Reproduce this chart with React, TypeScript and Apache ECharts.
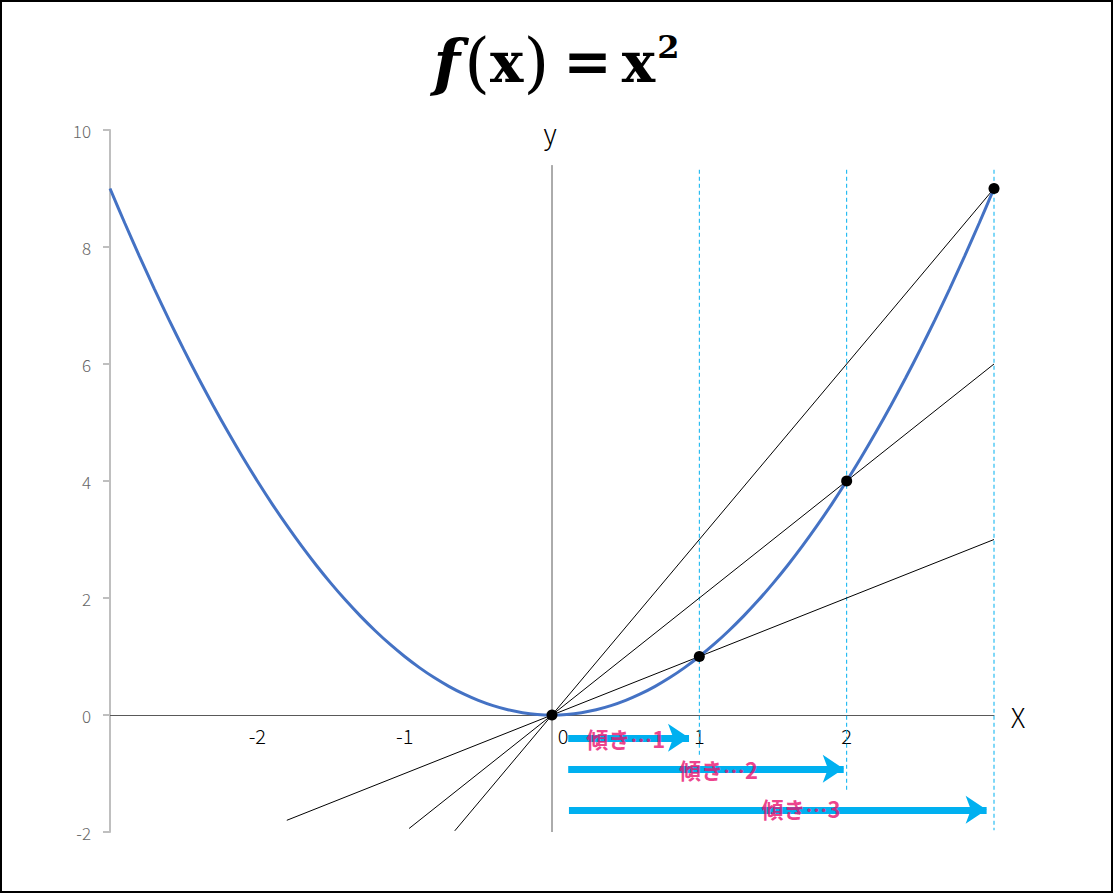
import React, { useEffect, useRef } from "react";
import * as echarts from "echarts";

const curveX = [-3, -2.9, -2.8, -2.7, -2.6, -2.5, -2.4, -2.3, -2.2, -2.1, -2, -1.9, -1.8, -1.7, -1.6, -1.5, -1.4, -1.3, -1.2, -1.1, -1, -0.9, -0.8, -0.7, -0.6, -0.5, -0.4, -0.3, -0.2, -0.1, 0, 0.1, 0.2, 0.3, 0.4, 0.5, 0.6, 0.7, 0.8, 0.9, 1, 1.1, 1.2, 1.3, 1.4, 1.5, 1.6, 1.7, 1.8, 1.9, 2, 2.1, 2.2, 2.3, 2.4, 2.5, 2.6, 2.7, 2.8, 2.9, 3];
const curveY = [9, 8.41, 7.84, 7.29, 6.76, 6.25, 5.76, 5.29, 4.84, 4.41, 4, 3.61, 3.24, 2.89, 2.56, 2.25, 1.96, 1.69, 1.44, 1.21, 1, 0.81, 0.64, 0.49, 0.36, 0.25, 0.16, 0.09, 0.04, 0.01, 0, 0.01, 0.04, 0.09, 0.16, 0.25, 0.36, 0.49, 0.64, 0.81, 1, 1.21, 1.44, 1.69, 1.96, 2.25, 2.56, 2.89, 3.24, 3.61, 4, 4.41, 4.84, 5.29, 5.76, 6.25, 6.76, 7.29, 7.84, 8.41, 9];

const chord1 = [[-1.8, -1.8], [3, 3]];
const chord2 = [[-0.97, -1.94], [3, 6]];
const chord3 = [[-0.66, -1.98], [3, 9]];

const dots = [[0, 0], [1, 1], [2, 4], [3, 9]];

const guideX = [1, 2, 3];
const guideTop = [9.32, 9.32, 9.32];
const guideBottom = [-0.72, -1.32, -1.97];

const yAxisLine = [[0, 9.4], [0, -2]];

const arrowStart = [0.11, 0.11, 0.115];
const arrowEnd = [0.93, 1.98, 2.95];
const arrowY = [-0.39, -0.92, -1.62];

const slopeLabels = ["傾き…1", "傾き…2", "傾き…3"];
const slopeLabelX = [0.5, 1.13, 1.69];
const slopeLabelY = [-0.4, -0.92, -1.59];

const xTickLabels = ["-2", "-1", "0", "1", "2"];
const yTicks = [-2, 0, 2, 4, 6, 8, 10];

export default function App() {
  const ref = useRef<HTMLDivElement>(null);
  useEffect(() => {
    document.body.style.margin = "0";
    const chart = echarts.init(ref.current!, null, { renderer: "svg" });
    const curve = curveX.map((x, i) => [x, curveY[i]]);
    const blackLine = (d: number[][]) => ({
      type: "line",
      data: d,
      symbol: "none",
      lineStyle: { color: "#000", width: 1 },
      z: 3,
      silent: true,
    });
    const serif = "DejaVu Serif";
    const option: any = {
      animation: false,
      backgroundColor: "#fff",
      title: {
        left: "center",
        top: 24,
        text: "{f|f}{p|(}{x|x}{p|)}{e|=}{x|x}{s|2}",
        textStyle: {
          rich: {
            f: { fontFamily: serif, fontWeight: "bold", fontStyle: "italic", fontSize: 62, color: "#000", padding: [0, 4, 0, 0] },
            p: { fontFamily: serif, fontWeight: "normal", fontSize: 66, color: "#000" },
            x: { fontFamily: serif, fontWeight: "bold", fontSize: 56, color: "#000" },
            e: { fontFamily: serif, fontWeight: "bold", fontSize: 58, color: "#000", padding: [0, 10, 0, 14] },
            s: { fontFamily: serif, fontWeight: "bold", fontSize: 32, color: "#000", padding: [0, 0, 30, 2] },
          },
        },
      },
      grid: { left: 110, right: 119, top: 130, bottom: 61 },
      xAxis: {
        type: "value",
        min: -3,
        max: 3,
        interval: 1,
        splitLine: { show: false },
        axisTick: { show: false },
        axisLine: { onZero: true, lineStyle: { color: "#595959", width: 1 } },
        axisLabel: {
          margin: -107,
          fontSize: 20,
          color: "#000",
          fontFamily: "Noto Sans CJK JP",
          fontWeight: 300,
          formatter: (v: number) => {
            const s = String(v);
            if (!xTickLabels.includes(s)) return "";
            if (s === "0") return "{z|0}";
            return s;
          },
          rich: { z: { fontSize: 20, color: "#000", fontFamily: "Noto Sans CJK JP", fontWeight: 300, padding: [0, 0, 0, 22] } },
        },
      },
      yAxis: {
        type: "value",
        min: -2,
        max: 10,
        interval: 2,
        splitLine: { show: false },
        axisLine: { show: true, onZero: false, lineStyle: { color: "#BFBFBF", width: 2 } },
        axisTick: { show: true, length: 7, lineStyle: { color: "#BFBFBF", width: 2 } },
        axisLabel: {
          margin: 19,
          fontSize: 17,
          color: "#666666",
          fontFamily: "Noto Sans CJK JP",
          fontWeight: 300,
          formatter: (v: number) => (yTicks.includes(v) ? String(v) : ""),
        },
      },
      graphic: [
        { type: "rect", shape: { x: 1, y: 1, width: 1111, height: 891 }, style: { fill: "none", stroke: "#000", lineWidth: 2 }, z: 100 },
        { type: "text", x: 550, y: 132, style: { text: "y", fontSize: 27, fill: "#000", fontFamily: "Noto Sans CJK JP", fontWeight: 300, align: "center", verticalAlign: "middle" } },
        { type: "text", x: 1018, y: 716, style: { text: "X", fontSize: 27, fill: "#000", fontFamily: "Noto Sans CJK JP", fontWeight: 300, align: "center", verticalAlign: "middle" } },
      ],
      series: [
        {
          type: "line",
          data: yAxisLine,
          symbol: "none",
          lineStyle: { color: "#595959", width: 1 },
          silent: true,
          z: 1,
        },
        ...guideX.map((x, i) => ({
          type: "line",
          data: [[x, guideTop[i]], [x, guideBottom[i]]],
          symbol: "none",
          lineStyle: { color: "#00B0F0", width: 1, type: [4, 3] },
          silent: true,
          z: 1,
        })),
        blackLine(chord1),
        blackLine(chord2),
        blackLine(chord3),
        {
          type: "line",
          data: curve,
          smooth: 0.3,
          symbol: "none",
          lineStyle: { color: "#4472C4", width: 3 },
          z: 4,
        },
        {
          type: "lines",
          coordinateSystem: "cartesian2d",
          polyline: false,
          symbol: ["none", "arrow"],
          symbolSize: 21,
          lineStyle: { color: "#00B0F0", width: 7, opacity: 1, curveness: 0 },
          data: arrowStart.map((s, i) => ({ coords: [[s, arrowY[i]], [arrowEnd[i], arrowY[i]]] })),
          z: 5,
        },
        {
          type: "scatter",
          data: dots,
          symbolSize: 11,
          itemStyle: { color: "#000", opacity: 1 },
          z: 6,
        },
        {
          type: "scatter",
          data: slopeLabels.map((t, i) => ({ value: [slopeLabelX[i], slopeLabelY[i]], name: t })),
          symbolSize: 0,
          label: {
            show: true,
            position: "inside",
            formatter: (p: any) => p.name,
            color: "#E8106E",
            fontSize: 22,
            fontWeight: "bold",
            fontFamily: "Noto Sans CJK JP",
          },
          z: 7,
        },
      ],
    };
    chart.setOption(option);
    return () => chart.dispose();
  }, []);
  return <div ref={ref} style={{ width: 1113, height: 893 }} />;
}
